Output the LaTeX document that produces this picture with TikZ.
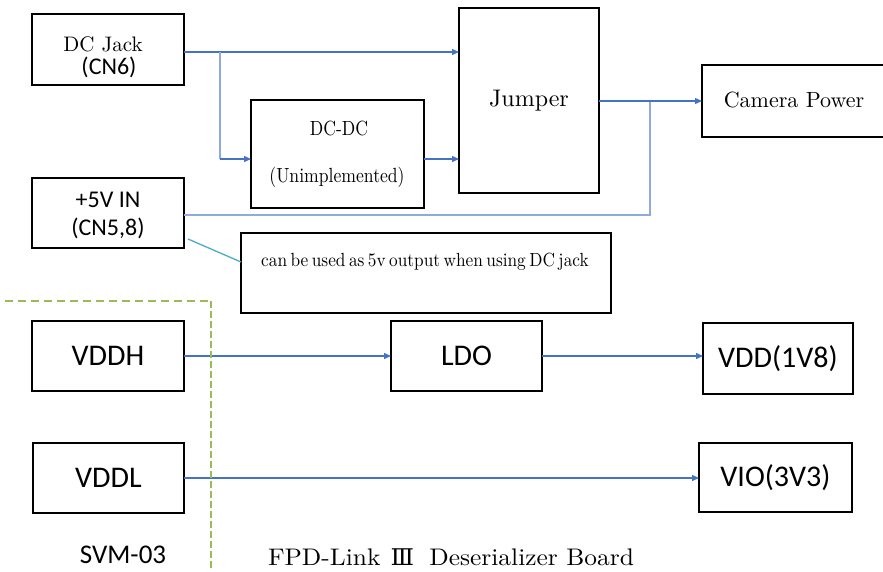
\documentclass[tikz,border=0pt]{standalone}
\usepackage{fontspec}
\usepackage{graphicx}
\newfontfamily\carl{Carlito}
\newfontfamily\lmten{lmroman10-regular.otf}
\newfontfamily\dvserif{DejaVu Serif}
\usetikzlibrary{arrows.meta}
\definecolor{arrblue}{HTML}{4472C4}
\definecolor{lightblue}{HTML}{8FAADC}
\definecolor{tealc}{HTML}{4BACC6}
\definecolor{dashgreen}{HTML}{9BBB59}
\begin{document}
\begin{tikzpicture}[x=1pt,y=-1pt,
  box/.style={draw=black, line width=2.4pt, inner sep=0pt, outer sep=0pt},
  thinbox/.style={draw=black, line width=1.8pt, inner sep=0pt, outer sep=0pt},
  lbl/.style={inner sep=0pt, outer sep=0pt},
  sanslbl/.style={lbl, font=\carl\fontsize{24}{28}\selectfont},
  biglbl/.style={lbl, font=\carl\fontsize{30}{36}\selectfont},
  arr/.style={draw=arrblue, line width=1.3pt, -{Triangle[length=7pt,width=6pt]}},
  feed/.style={draw=lightblue, line width=2.4pt},
  note/.style={draw=tealc, line width=1.3pt},
  border/.style={draw=dashgreen, line width=1.3pt, dash pattern=on 8pt off 5pt}
]
\useasboundingbox (0,0) rectangle (883,571);

% upper part
\node[box, minimum width=152pt, minimum height=71pt] (dcjack) at (108,49.5) {};
\node[lbl, font=\lmten\fontsize{21}{24}\selectfont] (dcjacktxt) at (103,44) {DC Jack};
\node[sanslbl] (cn6) at (109,67) {(CN6)};

\node[box, minimum width=152pt, minimum height=70pt] (vin) at (108,213) {};
\node[sanslbl] (vintxt) at (108,200) {+5V IN};
\node[sanslbl] (cn58) at (108,228) {(CN5,8)};

\node[thinbox, minimum width=173pt, minimum height=108pt] (dcdc) at (337.5,154) {};
\node[lbl, font=\lmten\fontsize{20.5}{24}\selectfont] (dcdctxt) at (339,128) {\scalebox{0.86}[1]{DC-DC}};
\node[lbl, font=\lmten\fontsize{20.5}{24}\selectfont] (unimpl) at (337,177) {\scalebox{0.86}[1]{(Unimplemented)}};

\node[box, line width=2pt, minimum width=140pt, minimum height=185pt,
      font=\lmten\fontsize{24}{28}\selectfont] (jumper) at (529,100.5) {Jumper};

\node[box, minimum width=200pt, minimum height=72pt] (camera) at (802,101) {};
\node[lbl, font=\lmten\fontsize{22}{26}\selectfont] (camtxt) at (794,100) {Camera Power};

\node[thinbox, minimum width=370pt, minimum height=80pt] (notebox) at (426,273) {};
\node[lbl, font=\lmten\fontsize{19}{22}\selectfont] (notetxt) at (425,262)
  {\scalebox{0.91}[1]{\spaceskip=0.2em plus 0.05em\relax can be used as 5v output when using DC jack}};

% connectors upper
\coordinate (b1) at (220,52);
\coordinate (b1d) at (220,159);
\coordinate (j2) at (650,101);
\coordinate (t1) at (188,239);
\draw[arr] ([yshift=-2.5pt]dcjack.east) -- ([yshift=-2.5pt]dcjack.east -| jumper.west);
\draw[feed] (b1) -- (b1d);
\draw[arr] (b1d) -- (b1d -| dcdc.west);
\draw[arr] (b1d -| dcdc.east) -- (b1d -| jumper.west);
\draw[feed] ([yshift=-2pt]vin.east) -| (j2);
\draw[arr] (jumper.east |- j2) -- (j2 -| camera.west);
\draw[note] (t1) -- ([yshift=11pt]notebox.west);

% lower part
\node[box, minimum width=152pt, minimum height=70pt, biglbl] (vddh) at (108,356) {VDDH};
\node[box, minimum width=151pt, minimum height=70pt, biglbl] (ldo) at (466.5,356) {LDO};
\node[box, minimum width=150pt, minimum height=71pt, biglbl] (vdd) at (778,358.5) {VDD(1V8)};
\node[box, minimum width=151pt, minimum height=70pt, biglbl] (vddl) at (108.5,478) {VDDL};
\node[box, minimum width=153pt, minimum height=69pt, biglbl] (vio) at (775.5,477.5) {VIO(3V3)};

\draw[arr] (vddh.east) -- (vddh.east -| ldo.west);
\draw[arr] (ldo.east) -- (ldo.east -| vdd.west);
\draw[arr] (vddl.east) -- (vddl.east -| vio.west);

% board boundary
\coordinate (g1) at (5,301);
\coordinate (g2) at (211,301);
\coordinate (g3) at (211,571);
\draw[border] (g1) -- (g2);
\draw[draw=dashgreen, line width=1.1pt, dash pattern=on 7pt off 3pt] (g2) -- (g3);

\node[lbl, font=\carl\fontsize{27}{32}\selectfont] (svm) at (123,555) {SVM-03};
\node[lbl, font=\lmten\fontsize{24}{28}\selectfont] (fpd) at (451,557)
  {\scalebox{1.06}[1]{FPD-Link\hspace{0.4em}{\dvserif\fontsize{23}{26}\selectfont Ⅲ}\hspace{0.6em}Deserializer Board}};
\end{tikzpicture}
\end{document}
